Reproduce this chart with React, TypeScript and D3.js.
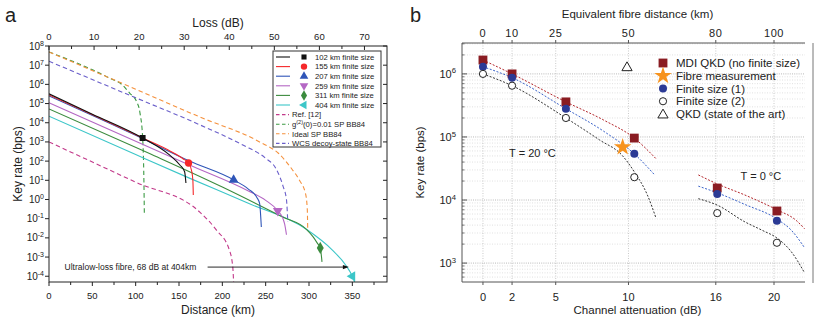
import React from 'react';
import * as d3 from 'd3';

// ---------- panel a: key rate vs distance ----------
// [distance km, key rate bps]
const curve102 = [[0, 3.2e5], [50, 2.8e4], [108, 1.6e3], [139, 210], [151, 63], [156.5, 28], [158, 7.2]];
const curve155 = [[0, 2.8e5], [108, 1.6e3], [140, 330], [155, 130], [161, 80], [164.5, 32], [166, 10], [166.5, 1.7]];
const curve207 = [[0, 2.5e5], [100, 2.2e3], [162, 100], [213, 10.5], [230, 3.5], [240, 1.25], [243, 0.63], [245, 0.037]];
const curve259 = [[0, 1.1e5], [100, 1.07e3], [162, 63], [230, 2.8], [250, 0.9], [264, 0.26], [270, 0.1], [272, 0.05], [274, 0.0145]];
const curve311 = [[0, 5.2e4], [116, 250], [200, 4.5], [269, 0.126], [297, 0.028], [305, 0.011], [310, 5e-3], [313, 3e-3], [315, 5.6e-4]];
const curve404 = [[0, 2.2e4], [100, 220], [162, 13], [230, 0.63], [297, 0.028], [327, 2.3e-3], [342, 4e-4], [350, 1e-4], [353, 4.5e-5]];

const markers = [[108, 1.6e3], [161, 80], [213, 10.5], [264, 0.26], [313, 3e-3], [350, 1e-4]];
const finiteLabels = ['102 km finite size', '155 km finite size', '207 km finite size', '259 km finite size', '311 km finite size', '404 km finite size'];

const ref12 = [[0, 1e3], [100, 8], [174, 0.22], [193, 0.026], [208, 2.4e-3], [212, 3.2e-4], [213, 5e-5]];
const g2SP = [[0, 4.9e7], [70, 2.1e6], [85, 9e5], [93, 3.5e5], [101, 1.3e5], [105, 3.2e4], [108, 1.8e3], [109.5, 10], [110, 0.2]];
const idealSP = [[0, 4.9e7], [100, 5.6e5], [174, 2e4], [243, 1e3], [265, 250], [280, 40], [289, 10], [296, 2], [298, 0.32], [298.5, 0.032]];
const wcsDecoy = [[0, 1.6e7], [100, 2e5], [174, 7.8e3], [223, 710], [250, 140], [262, 40], [270, 5], [274, 1], [275.5, 0.068]];
const dashedLabels = ['Ref. [12]', 'g(2)(0)=0.01 SP BB84', 'Ideal SP BB84', 'WCS decoy-state BB84'];

const distTicks = [0, 50, 100, 150, 200, 250, 300, 350];
const lossTicks = [0, 10, 20, 30, 40, 50, 60, 70];
const expTicksA = [8, 7, 6, 5, 4, 3, 2, 1, 0, -1, -2, -3, -4];

const arrowFrom = [183, 3e-4];
const arrowTo = [346, 3e-4];

// ---------- panel b: key rate vs channel attenuation ----------
const attenB = [0, 2, 5.7, 10.4, 16.1, 20.2];
const mdiRates = [1.66e6, 1.0e6, 3.6e5, 9.6e4, 1.55e4, 6.7e3];
const fs1Rates = [1.3e6, 8.7e5, 2.8e5, 5.4e4, 1.25e4, 4.7e3];
const fs2Rates = [1.0e6, 6.5e5, 2.0e5, 2.3e4, 6.2e3, 2.1e3];
const fibreMeas = [9.6, 6.9e4];
const qkdSota = [9.9, 1.3e6];

const red20 = [[0, 1.66e6], [2, 1.0e6], [5.7, 3.6e5], [8.3, 1.85e5], [10.4, 9.6e4], [11.9, 4.5e4]];
const blue20 = [[0, 1.3e6], [2, 8.7e5], [5.7, 2.8e5], [8.3, 1.23e5], [10.4, 5.4e4], [11.8, 2.5e4]];
const black20 = [[0, 1.0e6], [2, 6.5e5], [5.7, 2.0e5], [8, 9e4], [9.6, 5e4], [10.4, 2.8e4], [11.3, 1.2e4], [11.9, 5.1e3]];
const red0 = [[14.8, 2.5e4], [16.1, 1.8e4], [18, 1.2e4], [20.2, 7e3], [21.5, 4.8e3], [22.1, 3.5e3]];
const blue0 = [[14.8, 1.66e4], [16.1, 1.3e4], [18, 8.5e3], [20.2, 5e3], [21.2, 3.3e3], [22.1, 1.75e3]];
const black0 = [[14.8, 1.05e4], [16.1, 8.3e3], [18, 4.5e3], [19.2, 3.3e3], [20.2, 2.5e3], [21.2, 1.5e3], [22.1, 700]];

const attenTicks = [0, 2, 5, 10, 16, 20];
const fibreKmTicks = [0, 10, 25, 50, 80, 100];
const expTicksB = [6, 5, 4, 3];
const legendB = ['MDI QKD (no finite size)', 'Fibre measurement', 'Finite size (1)', 'Finite size (2)', 'QKD (state of the art)'];

const FONT = 'Liberation Sans, Arial, Helvetica, sans-serif';

const finiteColors = ['#111111', '#f5282a', '#2f55b8', '#b467c4', '#3b8b3e', '#3cc6c8'];
const finiteShapes = ['square', 'circle', 'tri', 'triDown', 'diamond', 'triLeft'];
const dashedColors = ['#c2398a', '#3c9a44', '#f5913d', '#6a5fca'];

function symbolPath(shape: string, size: number) {
  const map: any = {
    square: d3.symbolSquare,
    circle: d3.symbolCircle,
    tri: d3.symbolTriangle,
    triDown: d3.symbolTriangle,
    triLeft: d3.symbolTriangle,
    diamond: d3.symbolDiamond,
  };
  return d3.symbol().type(map[shape]).size(size)() as string;
}
function symbolRot(shape: string) {
  if (shape === 'triDown') return 180;
  if (shape === 'triLeft') return -90;
  return 0;
}

const Sup = ({ x, y, exp, size, anchor }: any) => (
  <text x={x} y={y} textAnchor={anchor} fontSize={size} fontFamily={FONT} fill="#222">
    10<tspan dy={-size * 0.4} fontSize={size * 0.7}>{exp}</tspan>
  </text>
);

const PanelA = () => {
  const L = 49, R = 387, T = 46, B = 282;
  const x = d3.scaleLinear().domain([0, 390]).range([L, R]);
  const loss = d3.scaleLinear().domain([0, 75]).range([L, R]);
  const y = d3.scaleLog().domain([Math.pow(10, -4.3), 1e8]).range([B, T]);
  const line = d3.line<number[]>().x(d => x(d[0])).y(d => y(d[1])).curve(d3.curveMonotoneX);
  const finite = [curve102, curve155, curve207, curve259, curve311, curve404];
  const dashed = [ref12, g2SP, idealSP, wcsDecoy];
  const minorDist = d3.range(25, 390, 50);
  const minorLoss = d3.range(5, 75, 10);

  const lgX = 273, lgY = 51, lgRow = 9.6;
  return (
    <g>
      <defs>
        <clipPath id="clipA"><rect x={L} y={T} width={R - L} height={B - T} /></clipPath>
      </defs>
      <text x={5} y={22} fontSize={20} fontFamily={FONT} fill="#222">a</text>
      <g clipPath="url(#clipA)">
        {[1, 2, 0, 3].map(i => (
          <path key={i} d={line(dashed[i]) as string} fill="none" stroke={dashedColors[i]} strokeWidth={1.1} strokeDasharray="4.5,3" />
        ))}
        {[5, 4, 3, 2, 1, 0].map(i => (
          <path key={i} d={line(finite[i]) as string} fill="none" stroke={finiteColors[i]} strokeWidth={1.1} />
        ))}
        {markers.map((m, i) => (
          <path key={i} d={symbolPath(finiteShapes[i], finiteShapes[i] === 'square' ? 36 : 42)}
            transform={`translate(${x(m[0])},${y(m[1])}) rotate(${symbolRot(finiteShapes[i])})`} fill={finiteColors[i]} />
        ))}
      </g>
      {/* annotation */}
      <text x={x(18)} y={y(arrowFrom[1]) + 3} fontSize={8.5} fontFamily={FONT} fill="#222">Ultralow-loss fibre, 68 dB at 404km</text>
      <line x1={x(arrowFrom[0])} x2={x(arrowTo[0]) - 5} y1={y(arrowFrom[1])} y2={y(arrowTo[1])} stroke="#111" strokeWidth={0.9} />
      <path d={`M${x(arrowTo[0])},${y(arrowTo[1])} l-6,-2.2 l0,4.4 z`} fill="#111" />

      {/* frame */}
      <rect x={L} y={T} width={R - L} height={B - T} fill="none" stroke="#222" strokeWidth={1} />
      {expTicksA.map(e => (
        <g key={e}>
          <line x1={L - 4} x2={L} y1={y(Math.pow(10, e))} y2={y(Math.pow(10, e))} stroke="#222" />
          <line x1={R - 4} x2={R} y1={y(Math.pow(10, e))} y2={y(Math.pow(10, e))} stroke="#222" />
          <Sup x={L - 5} y={y(Math.pow(10, e)) + 3.5} exp={e} size={10} anchor="end" />
        </g>
      ))}
      {distTicks.map(t => (
        <g key={t}>
          <line x1={x(t)} x2={x(t)} y1={B} y2={B + 4} stroke="#222" />
          <text x={x(t)} y={B + 17} textAnchor="middle" fontSize={9.5} fontFamily={FONT} fill="#222">{t}</text>
        </g>
      ))}
      {minorDist.map(t => <line key={t} x1={x(t)} x2={x(t)} y1={B} y2={B + 3} stroke="#222" />)}
      {lossTicks.map(t => (
        <g key={t}>
          <line x1={loss(t)} x2={loss(t)} y1={T} y2={T + 4} stroke="#222" />
          <text x={loss(t)} y={T - 6} textAnchor="middle" fontSize={9.5} fontFamily={FONT} fill="#222">{t}</text>
        </g>
      ))}
      {minorLoss.map(t => <line key={t} x1={loss(t)} x2={loss(t)} y1={T} y2={T + 3} stroke="#222" />)}

      <text x={(L + R) / 2} y={27} textAnchor="middle" fontSize={12} fontFamily={FONT} fill="#222">Loss (dB)</text>
      <text x={(L + R) / 2} y={314} textAnchor="middle" fontSize={12} fontFamily={FONT} fill="#222">Distance (km)</text>
      <text transform={`translate(22,${(T + B) / 2}) rotate(-90)`} textAnchor="middle" fontSize={12} fontFamily={FONT} fill="#222">Key rate (bps)</text>

      {/* legend */}
      <rect x={lgX} y={lgY} width={108} height={96} fill="#fff" stroke="#333" strokeWidth={1} />
      {finiteLabels.map((lab, i) => {
        const ry = lgY + 6 + i * lgRow;
        return (
          <g key={lab}>
            <line x1={lgX + 3} x2={lgX + 17} y1={ry} y2={ry} stroke={finiteColors[i]} strokeWidth={1.1} />
            <path d={symbolPath(finiteShapes[i], finiteShapes[i] === 'square' ? 26 : 32)}
              transform={`translate(${lgX + 31},${ry}) rotate(${symbolRot(finiteShapes[i])})`} fill={finiteColors[i]} />
            <text x={lgX + 42} y={ry + 2.8} fontSize={7.7} fontFamily={FONT} fill="#222">{lab}</text>
          </g>
        );
      })}
      {dashedLabels.map((lab, i) => {
        const ry = lgY + 6 + (i + 6) * lgRow;
        return (
          <g key={lab}>
            <line x1={lgX + 3} x2={lgX + 16} y1={ry} y2={ry} stroke={dashedColors[i]} strokeWidth={1.1} strokeDasharray="3.5,2.5" />
            {i === 1 ? (
              <text x={lgX + 19} y={ry + 2.8} fontSize={7.7} fontFamily={FONT} fill="#222">
                g<tspan dy={-3} fontSize={5.5}>(2)</tspan><tspan dy={3}>(0)=0.01 SP BB84</tspan>
              </text>
            ) : (
              <text x={lgX + 19} y={ry + 2.8} fontSize={7.7} fontFamily={FONT} fill="#222">{lab}</text>
            )}
          </g>
        );
      })}
    </g>
  );
};

const PanelB = () => {
  const L = 462, R = 805, T = 43, B = 282;
  const x = d3.scaleLinear().domain([-1.44, 22.13]).range([L, R]);
  const km = d3.scaleLinear().domain([-7.2, 110.65]).range([L, R]);
  const y = d3.scaleLog().domain([Math.pow(10, 2.7), Math.pow(10, 6.49)]).range([B, T]);
  const line = d3.line<number[]>().x(d => x(d[0])).y(d => y(d[1])).curve(d3.curveMonotoneX);
  const [ylo, yhi] = y.domain();
  const minor: number[] = [];
  for (let e = 2; e <= 6; e++) for (let m = 2; m <= 9; m++) {
    const v = m * Math.pow(10, e);
    if (v > ylo && v < yhi) minor.push(v);
  }
  const theory = [
    { d: red20, c: '#b3262b' }, { d: blue20, c: '#3b63c9' }, { d: black20, c: '#333' },
    { d: red0, c: '#b3262b' }, { d: blue0, c: '#3b63c9' }, { d: black0, c: '#333' },
  ];
  const sq = d3.symbol().type(d3.symbolSquare).size(78)() as string;
  const star = d3.symbol().type(d3.symbolStar).size(95)() as string;
  const tri = d3.symbol().type(d3.symbolTriangle).size(45)() as string;
  const lgX = 663, lgY = 63, lgRow = 12.75;
  const legendIcons = [
    <path d={sq} fill="#8a1c22" />,
    <path d={star} fill="#f7931e" />,
    <circle r={4} fill="#2b3a95" />,
    <circle r={3.6} fill="#fff" stroke="#222" strokeWidth={1} />,
    <path d={tri} transform="translate(0,1)" fill="#fff" stroke="#222" strokeWidth={1} />,
  ];
  return (
    <g>
      <text x={410} y={22} fontSize={20} fontFamily={FONT} fill="#222">b</text>
      <defs>
        <clipPath id="clipB"><rect x={L} y={T} width={R - L} height={B - T} /></clipPath>
      </defs>
      {minor.map(v => <line key={v} x1={L} x2={R} y1={y(v)} y2={y(v)} stroke="#d4d4d4" strokeWidth={0.7} strokeDasharray="1,1.5" />)}
      {expTicksB.map(e => <line key={e} x1={L} x2={R} y1={y(Math.pow(10, e))} y2={y(Math.pow(10, e))} stroke="#a8a8a8" strokeWidth={0.8} strokeDasharray="1,1.2" />)}
      {attenTicks.map(t => <line key={t} x1={x(t)} x2={x(t)} y1={T} y2={B} stroke="#bdbdbd" strokeWidth={0.8} strokeDasharray="1,1.5" />)}

      <g clipPath="url(#clipB)">
        {theory.map((t, i) => <path key={i} d={line(t.d) as string} fill="none" stroke={t.c} strokeWidth={1} strokeDasharray="2,1.6" />)}
        {attenB.map((a, i) => <path key={'m' + i} d={sq} transform={`translate(${x(a)},${y(mdiRates[i])})`} fill="#8a1c22" />)}
        {attenB.map((a, i) => <circle key={'f1' + i} cx={x(a)} cy={y(fs1Rates[i])} r={4} fill="#2b3a95" />)}
        {attenB.map((a, i) => <circle key={'f2' + i} cx={x(a)} cy={y(fs2Rates[i])} r={3.6} fill="#fff" stroke="#222" strokeWidth={1} />)}
        <path d={star} transform={`translate(${x(fibreMeas[0])},${y(fibreMeas[1])})`} fill="#f7931e" />
        <path d={tri} transform={`translate(${x(qkdSota[0])},${y(qkdSota[1]) + 1})`} fill="#fff" stroke="#222" strokeWidth={1} />
      </g>

      <line x1={L} x2={L} y1={T} y2={B} stroke="#555" />
      <line x1={L} x2={R} y1={B} y2={B} stroke="#555" />
      <line x1={L} x2={R} y1={T} y2={T} stroke="#555" />
      <line x1={813} x2={813} y1={T} y2={B + 1} stroke="#777" />
      {expTicksB.map(e => (
        <g key={e}>
          <line x1={L} x2={L + 5} y1={y(Math.pow(10, e))} y2={y(Math.pow(10, e))} stroke="#555" />
          <Sup x={L - 6} y={y(Math.pow(10, e)) + 4} exp={e} size={11} anchor="end" />
        </g>
      ))}
      {minor.map(v => <line key={v} x1={L} x2={L + 2.5} y1={y(v)} y2={y(v)} stroke="#555" strokeWidth={0.8} />)}
      {attenTicks.map(t => (
        <g key={t}>
          <line x1={x(t)} x2={x(t)} y1={B} y2={B + 3} stroke="#555" />
          <text x={x(t)} y={B + 19} textAnchor="middle" fontSize={11} fontFamily={FONT} fill="#222">{t}</text>
        </g>
      ))}
      {fibreKmTicks.map(t => (
        <g key={t}>
          <line x1={km(t)} x2={km(t)} y1={T - 3} y2={T} stroke="#555" />
          <text x={km(t)} y={T - 6} textAnchor="middle" fontSize={11} letterSpacing={0.6} fontFamily={FONT} fill="#222">{t}</text>
        </g>
      ))}
      <text x={(L + R) / 2 + 4} y={18} textAnchor="middle" fontSize={11.5} fontFamily={FONT} fill="#222">Equivalent fibre distance (km)</text>
      <text x={(L + R) / 2 + 4} y={314} textAnchor="middle" fontSize={11.5} fontFamily={FONT} fill="#222">Channel attenuation (dB)</text>
      <text transform={`translate(424,${(T + B) / 2}) rotate(-90)`} textAnchor="middle" fontSize={11.5} fontFamily={FONT} fill="#222">Key rate (bps)</text>

      <text x={x(3.4)} y={y(4.8e4)} textAnchor="middle" fontSize={11} fontFamily={FONT} fill="#222">T = 20 °C</text>
      <text x={x(19.1)} y={y(2.1e4)} textAnchor="middle" fontSize={11} fontFamily={FONT} fill="#222">T = 0 °C</text>

      {legendB.map((lab, i) => (
        <g key={lab} transform={`translate(${lgX},${lgY + i * lgRow})`}>
          {legendIcons[i]}
          <text x={13} y={4} fontSize={11.5} fontFamily={FONT} fill="#222">{lab}</text>
        </g>
      ))}
    </g>
  );
};

export default function App() {
  return (
    <svg width={818} height={318} style={{ position: 'absolute', left: 0, top: 0, background: '#fff' }}>
      <PanelA />
      <PanelB />
    </svg>
  );
}
